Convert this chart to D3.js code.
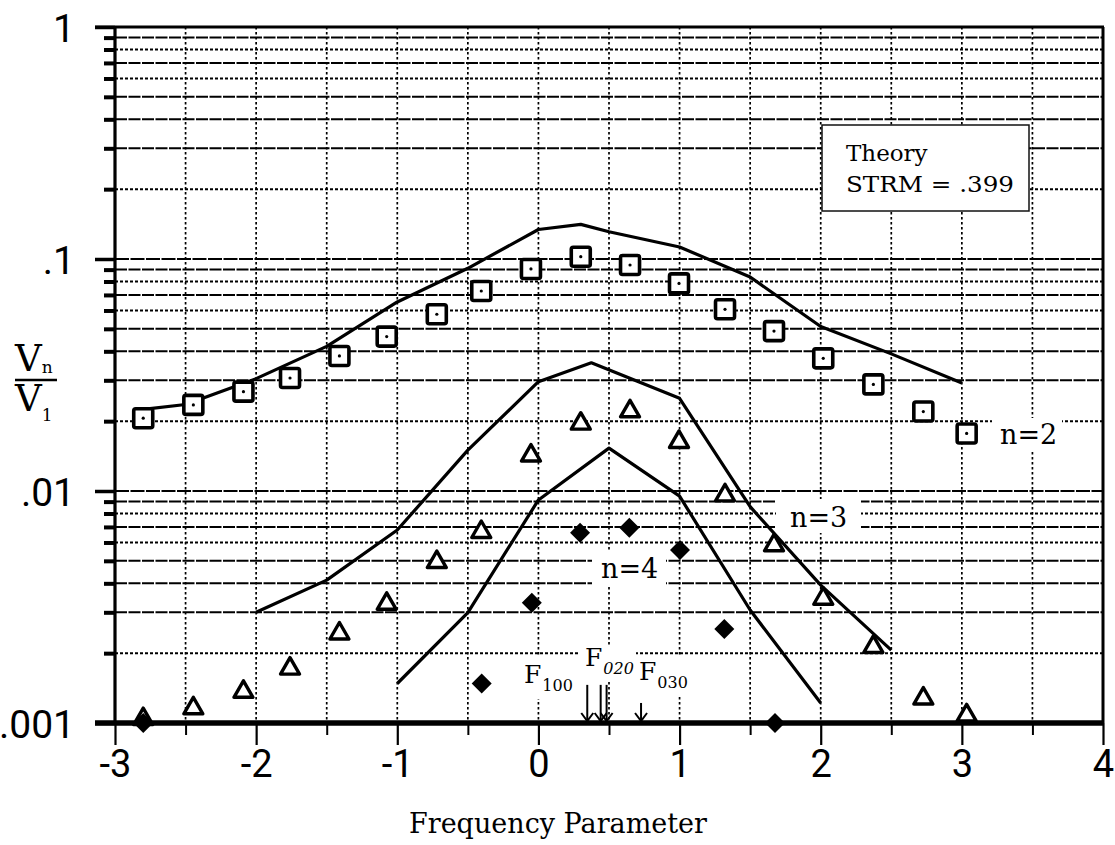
<!DOCTYPE html>
<html><head><meta charset="utf-8">
<script src="https://cdn.jsdelivr.net/npm/d3@7"></script>
<style>
html,body{margin:0;padding:0;background:#fff;}
svg{display:block;}
</style></head>
<body>
<svg id="chart" width="1115" height="845"></svg>
<script>
// ---------- data ----------
const xTicks = [-3, -2, -1, 0, 1, 2, 3, 4];
const yTicks = [0.001, 0.01, 0.1, 1];
const yTickLabels = [".001", ".01", ".1", "1"];

const expX  = [-2.80, -2.445, -2.09, -1.76, -1.41, -1.075, -0.72, -0.405, -0.053, 0.30, 0.649, 0.996, 1.322, 1.669, 2.018, 2.373, 2.727, 3.034];
const n2Exp = [0.0206, 0.0235, 0.0268, 0.0307, 0.0382, 0.0463, 0.0578, 0.0728, 0.0906, 0.1023, 0.0942, 0.0785, 0.0607, 0.0489, 0.0373, 0.0288, 0.0220, 0.0177];
const n3Exp = [0.00106, 0.00118, 0.00139, 0.00175, 0.00248, 0.00333, 0.00504, 0.00679, 0.0145, 0.0199, 0.0225, 0.0166, 0.00977, 0.00595, 0.0035, 0.00217, 0.0013, 0.0011];

const n4ExpX = [-2.80, -0.402, -0.047, 0.295, 0.644, 1.003, 1.317, 1.676];
const n4Exp  = [0.001, 0.00148, 0.0033, 0.0066, 0.00695, 0.00557, 0.00254, 0.001];

const n2TheoryX = [-2.8, -2.5, -2, -1.5, -1, -0.5, 0, 0.3, 0.5, 1, 1.5, 2, 2.5, 3];
const n2Theory  = [0.0225, 0.0236, 0.0305, 0.042, 0.0653, 0.0912, 0.134, 0.141, 0.131, 0.1127, 0.0836, 0.0512, 0.0390, 0.0292];

const n3TheoryX = [-2, -1.5, -1, -0.5, 0, 0.375, 1, 1.5, 2, 2.5];
const n3Theory  = [0.0030, 0.00413, 0.00679, 0.0150, 0.0296, 0.0357, 0.0251, 0.00856, 0.00393, 0.00206];

const n4TheoryX = [-1, -0.5, 0, 0.5, 1, 1.5, 2];
const n4Theory  = [0.00148, 0.00299, 0.00915, 0.0153, 0.0095, 0.00307, 0.00122];

const fArrowX    = [0.346, 0.441, 0.483, 0.727];
const fArrowTop  = [0.00146, 0.00146, 0.00146, 0.00122];

// ---------- layout ----------
const svg = d3.select("#chart");
const L = 115, R = 1103, T = 27, B = 723;
const x = d3.scaleLinear().domain([-3, 4]).range([L, R]);
const y = d3.scaleLog().domain([0.001, 1]).range([B, T]);

const serif = "'DejaVu Serif', serif";
const sans = "Roboto, 'Open Sans', sans-serif";

// ---------- grid ----------
const grid = svg.append("g");
const minorVals = [];
[0.001, 0.01, 0.1].forEach(d => { for (let k = 2; k <= 9; k++) minorVals.push({v: k * d, k}); });
const dottedK = new Set([2, 6, 8]);
grid.selectAll("line.h").data(minorVals).join("line")
  .attr("x1", L).attr("x2", R)
  .attr("y1", d => y(d.v)).attr("y2", d => y(d.v))
  .attr("stroke", "#000").attr("stroke-width", 2)
  .attr("stroke-dasharray", d => dottedK.has(d.k) ? "3,2" : "12,1.5");
grid.selectAll("line.hm").data([0.01, 0.1]).join("line")
  .attr("x1", L).attr("x2", R)
  .attr("y1", d => y(d)).attr("y2", d => y(d))
  .attr("stroke", "#000").attr("stroke-width", 2.2)
  .attr("stroke-dasharray", "14,1.5");
const vgrid = d3.range(-2.5, 4, 0.5);
grid.selectAll("line.v").data(vgrid).join("line")
  .attr("x1", d => x(d)).attr("x2", d => x(d))
  .attr("y1", T).attr("y2", B)
  .attr("stroke", "#000").attr("stroke-width", 1.7)
  .attr("stroke-dasharray", "2.5,2.5");

// ---------- white label backgrounds ----------
const bg = svg.append("g").attr("fill", "#fff");
bg.append("rect").attr("x", 822).attr("y", 125).attr("width", 207).attr("height", 86)
  .attr("stroke", "#111").attr("stroke-width", 1.5);
bg.append("rect").attr("x", 992).attr("y", 418).attr("width", 70).attr("height", 34);
bg.append("rect").attr("x", 776).attr("y", 499).attr("width", 85).attr("height", 34);
bg.append("rect").attr("x", 592).attr("y", 551).attr("width", 74).attr("height", 34);
bg.append("rect").attr("x", 520).attr("y", 657).attr("width", 54).attr("height", 42);
bg.append("rect").attr("x", 578).attr("y", 645).attr("width", 58).attr("height", 36);
bg.append("rect").attr("x", 637).attr("y", 657).attr("width", 52).attr("height", 38);

// ---------- axes ----------
const ax = svg.append("g");
const yAxis = d3.axisLeft(y).tickValues(yTicks)
  .tickFormat((d, i) => yTickLabels[i]).tickSize(20).tickPadding(20);
const gy = ax.append("g").attr("transform", `translate(${L},0)`).call(yAxis);
gy.select(".domain").remove();
gy.selectAll(".tick line").attr("stroke", "#000").attr("stroke-width", 3.5);
gy.selectAll(".tick text").attr("font-family", sans).attr("font-size", 39)
  .attr("fill", "#000").attr("dy", "0.36em");
const yMinor = d3.axisLeft(y).tickValues(minorVals.map(d => d.v)).tickSize(11).tickFormat("");
const gym = ax.append("g").attr("transform", `translate(${L},0)`).call(yMinor);
gym.select(".domain").remove();
gym.selectAll(".tick line").attr("stroke", "#000").attr("stroke-width", 4);

const xAxis = d3.axisBottom(x).tickValues(xTicks).tickFormat(d => String(d))
  .tickSize(22).tickPadding(5);
const gx = ax.append("g").attr("transform", `translate(0,${B})`).call(xAxis);
gx.select(".domain").remove();
gx.selectAll(".tick line").attr("stroke", "#000").attr("stroke-width", 2.2);
gx.selectAll(".tick text").attr("font-family", sans).attr("font-size", 38).attr("fill", "#000");
const xMinor = d3.axisBottom(x).tickValues(d3.range(-2.5, 4, 1)).tickSize(12).tickFormat("");
const gxm = ax.append("g").attr("transform", `translate(0,${B})`).call(xMinor);
gxm.select(".domain").remove();
gxm.selectAll(".tick line").attr("stroke", "#000").attr("stroke-width", 2);

// frame
ax.append("line").attr("x1", L).attr("x2", L).attr("y1", T - 1).attr("y2", B + 2)
  .attr("stroke", "#000").attr("stroke-width", 3.2);
ax.append("line").attr("x1", 95).attr("x2", R + 1).attr("y1", T).attr("y2", T)
  .attr("stroke", "#000").attr("stroke-width", 3.2);
ax.append("line").attr("x1", R).attr("x2", R).attr("y1", T).attr("y2", B)
  .attr("stroke", "#000").attr("stroke-width", 3);
ax.append("line").attr("x1", 95).attr("x2", R + 1).attr("y1", B).attr("y2", B)
  .attr("stroke", "#000").attr("stroke-width", 5.5);

// ---------- theory lines ----------
const line = d3.line().x(d => x(d[0])).y(d => y(d[1]));
const lines = svg.append("g").attr("fill", "none").attr("stroke", "#000")
  .attr("stroke-width", 3.2).attr("stroke-linejoin", "round");
[[n2TheoryX, n2Theory], [n3TheoryX, n3Theory], [n4TheoryX, n4Theory]].forEach(([xs, vs]) => {
  lines.append("path").attr("d", line(d3.zip(xs, vs)));
});

// ---------- markers ----------
const mk = svg.append("g");
const sq = d3.zip(expX, n2Exp);
mk.selectAll("rect.sq").data(sq).join("rect")
  .attr("x", d => x(d[0]) - 9.5).attr("y", d => y(d[1]) - 9.5)
  .attr("width", 19).attr("height", 19).attr("rx", 2)
  .attr("fill", "#fff").attr("stroke", "#000").attr("stroke-width", 3.6);
mk.selectAll("circle.sqd").data(sq).join("circle")
  .attr("cx", d => x(d[0])).attr("cy", d => y(d[1])).attr("r", 1.6).attr("fill", "#000");
const tri = d3.zip(expX, n3Exp);
mk.selectAll("path.tri").data(tri).join("path")
  .attr("transform", d => `translate(${x(d[0])},${y(d[1])})`)
  .attr("d", "M0,-9 L9.5,7.5 L-9.5,7.5 Z")
  .attr("fill", "#fff").attr("stroke", "#000").attr("stroke-width", 3.4).attr("stroke-linejoin", "round");
const dia = d3.zip(n4ExpX, n4Exp);
mk.selectAll("path.dia").data(dia).join("path")
  .attr("transform", d => `translate(${x(d[0])},${y(d[1])})`)
  .attr("d", "M0,-10 L10,0 L0,10 L-10,0 Z").attr("fill", "#000");

// ---------- F arrows ----------
const arr = svg.append("g").attr("stroke", "#000").attr("stroke-width", 2).attr("fill", "none");
fArrowX.forEach((fx, i) => {
  const xx = x(fx), y0 = y(fArrowTop[i]), y1 = B - 2;
  arr.append("line").attr("x1", xx).attr("x2", xx).attr("y1", y0).attr("y2", y1);
  arr.append("path").attr("d", `M${xx - 6},${y1 - 8} L${xx},${y1} L${xx + 6},${y1 - 8}`);
});

// ---------- text ----------
const tx = svg.append("g").attr("fill", "#000");
tx.append("text").attr("x", 846).attr("y", 161).attr("font-family", serif).attr("font-size", 23).text("Theory");
tx.append("text").attr("x", 846).attr("y", 192).attr("font-family", serif).attr("font-size", 23)
  .attr("textLength", 168).attr("lengthAdjust", "spacingAndGlyphs").text("STRM = .399");

tx.append("text").attr("x", 1000).attr("y", 444).attr("font-family", serif).attr("font-size", 27).text("n=2");
tx.append("text").attr("x", 790).attr("y", 527).attr("font-family", serif).attr("font-size", 27).text("n=3");
tx.append("text").attr("x", 601).attr("y", 578).attr("font-family", serif).attr("font-size", 27).text("n=4");

function fLabel(xp, yp, sub, italic) {
  const t = tx.append("text").attr("x", xp).attr("y", yp).attr("font-family", serif).attr("font-size", 25);
  t.append("tspan").text("F");
  t.append("tspan").attr("font-size", 16).attr("dy", 8).attr("dx", 1)
    .attr("font-style", italic ? "italic" : "normal").text(sub);
}
fLabel(524, 683, "100", false);
fLabel(585, 666, "020", true);
fLabel(639, 680, "030", false);

// y label fraction
const yl = tx.append("g");
const vn = yl.append("text").attr("x", 15).attr("y", 371).attr("font-family", serif).attr("font-size", 37);
vn.append("tspan").text("V");
vn.append("tspan").attr("font-size", 17).attr("dy", 2).text("n");
yl.append("line").attr("x1", 15).attr("x2", 57).attr("y1", 380).attr("y2", 380)
  .attr("stroke", "#000").attr("stroke-width", 2.5);
const v1 = yl.append("text").attr("x", 15).attr("y", 411).attr("font-family", serif).attr("font-size", 37);
v1.append("tspan").text("V");
v1.append("tspan").attr("font-size", 17).attr("dy", 10).text("1");

tx.append("text").attr("x", 558).attr("y", 833).attr("text-anchor", "middle")
  .attr("font-family", serif).attr("font-size", 27).text("Frequency Parameter");
</script>
</body></html>
